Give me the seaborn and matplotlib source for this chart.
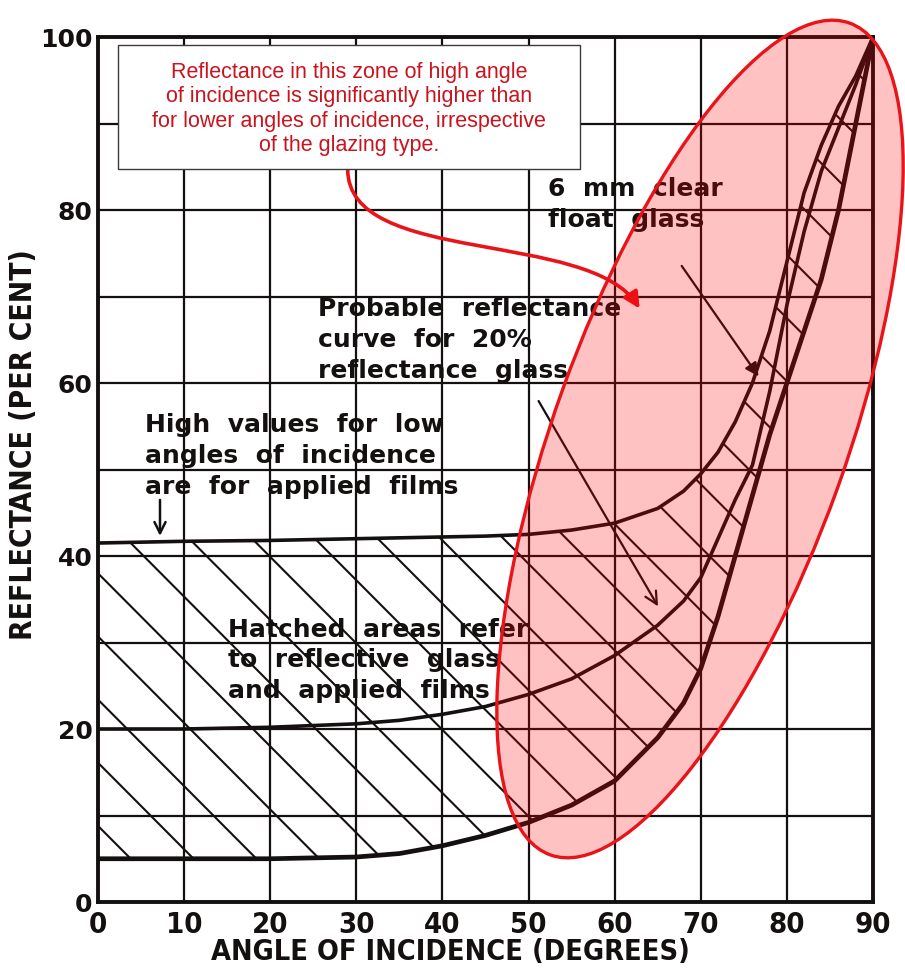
import numpy as np
import pandas as pd
import matplotlib
matplotlib.use("Agg")
import matplotlib.pyplot as plt
import seaborn as sns
from matplotlib.patches import Ellipse, Rectangle, FancyArrowPatch
from matplotlib.path import Path

# ---------------- data ----------------
angles = [0, 10, 20, 30, 35, 40, 45, 50, 55, 60, 65, 68, 70, 72, 74, 76, 78, 80, 82, 84, 86, 88, 90]
refl_clear_6mm = [5, 5, 5, 5.2, 5.6, 6.5, 7.7, 9.2, 11.2, 14, 19, 23, 27, 33, 40, 47, 54, 60, 66, 72, 80, 90, 100]
refl_20pct = [20, 20, 20.2, 20.6, 21, 21.7, 22.6, 24, 25.8, 28.5, 32, 34.8, 37.5, 42, 46.5, 50.5, 59, 69, 77.5, 84.5, 89.5, 94.5, 100]
refl_films = [41.5, 41.7, 41.8, 42, 42.1, 42.2, 42.3, 42.5, 43, 43.8, 45.5, 47.5, 49.5, 52, 55.5, 60, 66, 74, 82, 87.5, 92, 95.5, 100]

x_ticks = [0, 10, 20, 30, 40, 50, 60, 70, 80, 90]
y_ticks = [0, 20, 40, 60, 80, 100]
y_minor = [10, 30, 50, 70, 90]

df = pd.DataFrame({"angle": angles, "clear": refl_clear_6mm,
                   "r20": refl_20pct, "films": refl_films})

# ---------------- figure ----------------
sns.set_theme(style="white")
plt.rcParams["font.family"] = ["DejaVu Sans"]

fig = plt.figure(figsize=(9.05, 9.79), dpi=100)
ax = fig.add_axes([98 / 905, 76 / 979, 775 / 905, 865 / 979])

ink = "#141010"

# hatched region between clear glass and applied films
poly = ax.fill_between(df["angle"], df["clear"], df["films"],
                       facecolor="none", edgecolor="none", zorder=2)
clip_path = poly.get_paths()[0]
hatch_step = 7.3
hatch_slope = 1.0
for c in np.arange(38 - hatch_step * 6, 200, hatch_step):
    ln, = ax.plot([0, 90], [c, c - 90 * hatch_slope], color=ink, linewidth=1.5, zorder=2)
    ln.set_clip_path(clip_path, transform=ax.transData)

# curves
sns.lineplot(data=df, x="angle", y="clear", ax=ax, color=ink, linewidth=3.4, zorder=3)
sns.lineplot(data=df, x="angle", y="r20", ax=ax, color=ink, linewidth=2.6, zorder=3)
sns.lineplot(data=df, x="angle", y="films", ax=ax, color=ink, linewidth=2.6, zorder=3)

ax.set_xlim(0, 90)
ax.set_ylim(0, 100)
ax.set_xticks(x_ticks)
ax.set_yticks(y_ticks)
ax.set_yticks(y_minor, minor=True)
ax.grid(True, which="both", color=ink, linewidth=1.6, zorder=1)
ax.set_axisbelow(True)
ax.tick_params(axis="both", which="both", length=0)
ax.tick_params(axis="y", pad=4)
ax.tick_params(axis="x", pad=6)
for lab in ax.get_yticklabels():
    lab.set_fontsize(18)
    lab.set_fontweight("bold")
    lab.set_color(ink)
for lab in ax.get_xticklabels():
    lab.set_fontsize(21)
    lab.set_fontweight("bold")
    lab.set_fontstretch("condensed")
    lab.set_color(ink)
for sp in ax.spines.values():
    sp.set_visible(True)
    sp.set_color(ink)
    sp.set_linewidth(2.8)

ax.set_xlabel("ANGLE OF INCIDENCE (DEGREES)", fontsize=20.7, fontweight="bold",
              fontstretch="condensed", color=ink)
ax.set_ylabel("REFLECTANCE (PER CENT)", fontsize=21.5, fontweight="bold",
              fontstretch="condensed", color=ink)
ax.xaxis.set_label_coords(0.455, -0.040)
ax.yaxis.set_label_coords(-0.077, 0.53)

# black annotations
tkw = dict(fontsize=18, fontweight="bold", color=ink, ha="left", va="top",
           linespacing=1.35, zorder=4)
ax.text(52.3, 83.9, "6  mm  clear\nfloat  glass", **tkw)
ax.text(25.6, 70.0, "Probable  reflectance\ncurve  for  20%\nreflectance  glass", **tkw)
ax.text(5.5, 56.6, "High  values  for  low\nangles  of  incidence\nare  for  applied  films", **tkw)
ax.text(15.1, 33.0, "Hatched  areas  refer\nto  reflective  glass\nand  applied  films", **tkw)

ax.annotate("", xy=(7.2, 42.0), xytext=(7.2, 46.8),
            arrowprops=dict(arrowstyle="->", lw=1.8, color=ink, mutation_scale=20), zorder=4)
ax.annotate("", xy=(76.9, 60.5), xytext=(67.6, 73.8),
            arrowprops=dict(arrowstyle="-|>", lw=1.6, color=ink, mutation_scale=20), zorder=4)
ax.annotate("", xy=(65.2, 33.9), xytext=(51.0, 58.2),
            arrowprops=dict(arrowstyle="->", lw=1.6, color=ink, mutation_scale=22), zorder=4)

# red highlight ellipse (in figure inches)
ell_fill = Ellipse((7.00, 5.39), 2.92, 8.84, angle=-19.8, transform=fig.dpi_scale_trans,
                   facecolor=(1.0, 0.0, 0.0, 0.24), edgecolor="none", zorder=5, clip_on=False)
ell_edge = Ellipse((7.00, 5.39), 2.92, 8.84, angle=-19.8, transform=fig.dpi_scale_trans,
                   facecolor="none", edgecolor="#e8141a", linewidth=2.4, zorder=6, clip_on=False)
fig.add_artist(ell_fill)
fig.add_artist(ell_edge)

# callout box
box = Rectangle((1.18, 8.09), 4.62, 1.24, transform=fig.dpi_scale_trans,
                facecolor="white", edgecolor="#3a3a3a", linewidth=1.0, zorder=7)
fig.add_artist(box)
fig.text(3.49 / 9.05, 8.70 / 9.79,
         "Reflectance in this zone of high angle\nof incidence is significantly higher than\n"
         "for lower angles of incidence, irrespective\nof the glazing type.",
         ha="center", va="center", fontsize=15.5, color="#c8141e",
         family=["Liberation Sans", "DejaVu Sans"], linespacing=1.2, zorder=8)

# red curved arrow from box to the zone
arrow_path = Path([(29.0, 84.7), (29.0, 73.5), (57.1, 77.8), (62.9, 68.6)],
                  [Path.MOVETO, Path.CURVE4, Path.CURVE4, Path.CURVE4])
red_arrow = FancyArrowPatch(path=arrow_path, arrowstyle="-|>", mutation_scale=24,
                            color="#e8141a", linewidth=2.6, transform=ax.transData,
                            zorder=8, clip_on=False)
ax.add_patch(red_arrow)

fig.savefig("out.png", dpi=100)
